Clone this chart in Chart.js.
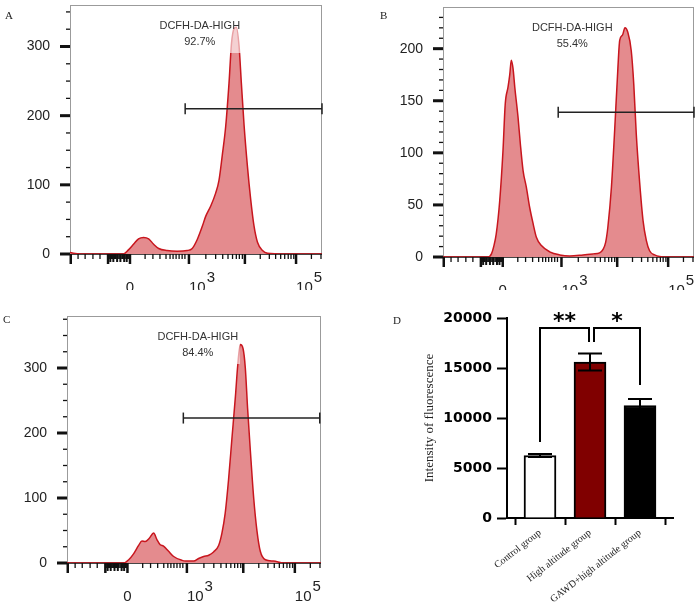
<!DOCTYPE html>
<html>
<head>
<meta charset="utf-8">
<script src="https://cdn.jsdelivr.net/npm/chart.js@4.4.1/dist/chart.umd.min.js"></script>
<style>
  body { margin: 0; background: #fff; }
  #fig { position: relative; width: 699px; height: 611px; overflow: hidden; }
  #fig canvas { position: absolute; }
  .tag { position: absolute; font: 11px "Liberation Serif", "Times New Roman", serif; color: #222; line-height: normal; }
</style>
</head>
<body>
<div id="fig">
  <canvas id="histA" width="345" height="290" style="left:0;top:0"></canvas>
  <canvas id="histB" width="329" height="290" style="left:370px;top:0"></canvas>
  <canvas id="histC" width="345" height="321" style="left:0;top:290px"></canvas>
  <canvas id="barD" width="309" height="326" style="left:390px;top:285px"></canvas>
  <div class="tag" style="left:5px;top:9px">A</div>
  <div class="tag" style="left:380px;top:9px">B</div>
  <div class="tag" style="left:3px;top:313px">C</div>
  <div class="tag" style="left:393px;top:314px">D</div>
</div>
<script>
Chart.defaults.animation = false;
Chart.defaults.font.family = '"Liberation Sans", Arial, sans-serif';

// flow histograms: x in channel units (0-1000 across the plot), biexponential display
const xMajorTicks = [3, 151, 238, 472, 694, 897];
const xMidTicks = [160, 172, 187, 200, 215, 225];
const xMinorTicks = [32, 60, 91, 119, 154, 158, 163, 165, 168, 176, 180, 183, 191, 195, 199, 203, 208, 212, 218, 222, 228, 231, 234,
  298, 329, 357, 381, 397, 409, 421, 433, 445, 456,
  539, 578, 606, 627, 645, 660, 672, 684, 755, 791, 816, 836, 852, 866, 877, 888, 958, 996];
const xLabelAt = [238, 472, 897];
const xLabelBase = ['0', '10', '10'];
const xLabelSup = ['', '3', '5'];

const chA = [0, 40, 212, 232, 252, 272, 292, 312, 332, 352, 385, 425, 465, 485, 505, 525, 538, 558, 578, 591,
  604, 618, 631, 641, 651, 660, 671, 680, 691, 704, 717, 730, 744, 764, 784, 850, 1000];
const countA = [2, 0, 0, 6, 14, 22, 24, 22, 14, 8, 5, 4, 5, 8, 21, 40, 54, 69, 88, 106,
  142, 185, 247, 305, 326, 328, 300, 247, 185, 127, 79, 41, 17, 5, 1, 0, 0];

const chB = [0, 179, 193, 202, 212, 226, 239, 248, 259, 266, 272, 279, 286, 299, 308, 319, 332, 345, 359, 372,
  392, 425, 465, 505, 558, 598, 624, 637, 648, 657, 671, 684, 695, 704, 715, 725, 736, 750, 760, 770,
  784, 797, 810, 823, 843, 890, 1000];
const countB = [0, 0, 3, 10, 22, 54, 102, 147, 163, 175, 189, 181, 163, 134, 109, 83, 67, 48, 32, 19,
  11, 5, 2, 1, 2, 3, 4, 7, 14, 29, 67, 122, 173, 208, 213, 220, 216, 198, 166, 118,
  70, 35, 16, 6, 2, 0, 0];

const chC = [0, 223, 243, 262, 282, 295, 308, 324, 341, 354, 367, 380, 400, 420, 453, 466, 499, 518, 538, 558,
  577, 597, 610, 623, 636, 649, 663, 672, 682, 693, 702, 711, 722, 735, 748, 761, 781, 813, 853, 1000];
const countC = [0, 0, 5, 14, 27, 34, 33, 38, 46, 36, 28, 26, 18, 10, 4, 3, 3, 7, 10, 12,
  17, 27, 46, 77, 128, 190, 256, 303, 336, 330, 300, 238, 172, 100, 49, 18, 5, 3, 0, 0];

const gateStart = [457, 459, 458];
const gateEnd = [1000, 1000, 995];
const gateLevel = [210, 139, 223];
const gateName = ['DCFH-DA-HIGH', 'DCFH-DA-HIGH', 'DCFH-DA-HIGH'];
const gatePct = ['92.7%', '55.4%', '84.4%'];

// bar chart (panel D)
const groups = ['Control group', 'High altitude group', 'GAWD+high altitude group'];
const meanIntensity = [6250, 15600, 11250];
const sdIntensity = [140, 850, 650];
const sigLeft = [0, 1.08];
const sigRight = [0.98, 2];
const sigLeftFoot = [7600, 17600];
const sigRightFoot = [17600, 13300];
const sigTop = [19000, 19000];
const sigMark = ['**', '*'];

const histPanels = [
  { canvas: 'histA', ch: chA, count: countA, yMax: 360, yStep: 100, yMinor: 25, yWidth: 70, top: 5, right: 23, xHeight: 36 },
  { canvas: 'histB', ch: chB, count: countB, yMax: 240, yStep: 50, yMinor: 10, yWidth: 73, top: 7, right: 5, xHeight: 33 },
  { canvas: 'histC', ch: chC, count: countC, yMax: 380, yStep: 100, yMinor: 25, yWidth: 67, top: 26, right: 24, xHeight: 48 }
];

function flowAxes(p, i) {
  return {
    id: 'flowAxes',
    beforeDatasetsDraw(chart) {
      const { ctx, chartArea: a } = chart;
      ctx.save();
      ctx.strokeStyle = '#9b9b9b';
      ctx.lineWidth = 1;
      ctx.strokeRect(a.left + 0.5, a.top + 0.5, a.right - a.left - 1, a.bottom - a.top - 0.5);
      ctx.strokeStyle = '#1a1a1a';
      ctx.lineWidth = 1.5;
      ctx.beginPath();
      ctx.moveTo(a.left, a.bottom);
      ctx.lineTo(a.right, a.bottom);
      ctx.stroke();
      ctx.restore();
    },
    afterDatasetsDraw(chart) {
      const { ctx, chartArea: a, scales: { x, y } } = chart;
      ctx.save();
      // gate label, on a see-through white box like the original export
      const cx = x.getPixelForValue(515);
      ctx.fillStyle = 'rgba(255,255,255,0.6)';
      ctx.fillRect(cx - 42, a.top + 12, 84, 36);
      ctx.fillStyle = '#333';
      ctx.font = '11px "Liberation Sans", Arial, sans-serif';
      ctx.textAlign = 'center';
      ctx.textBaseline = 'middle';
      ctx.fillText(gateName[i], cx, a.top + 21);
      ctx.fillText(gatePct[i], cx, a.top + 37);

      ctx.strokeStyle = '#111';
      const mark = (x0, y0, x1, y1, w) => {
        ctx.lineWidth = w;
        ctx.beginPath();
        ctx.moveTo(x0, y0);
        ctx.lineTo(x1, y1);
        ctx.stroke();
      };
      xMajorTicks.forEach(v => { const px = x.getPixelForValue(v); mark(px, a.bottom, px, a.bottom + 10, 2.5); });
      xMidTicks.forEach(v => { const px = x.getPixelForValue(v); mark(px, a.bottom, px, a.bottom + 8, 2); });
      xMinorTicks.forEach(v => { const px = x.getPixelForValue(v); mark(px, a.bottom, px, a.bottom + 5, 1.3); });
      for (let v = 0; v < p.yMax; v += p.yMinor) {
        const py = y.getPixelForValue(v);
        if (v % p.yStep === 0) mark(a.left - 10, py, a.left, py, 3);
        else mark(a.left - 4, py, a.left, py, 1.3);
      }

      ctx.fillStyle = '#222';
      ctx.font = '15px "Liberation Sans", Arial, sans-serif';
      xLabelAt.forEach((v, k) => {
        const px = x.getPixelForValue(v);
        if (!xLabelSup[k]) {
          ctx.textAlign = 'center';
          ctx.fillText(xLabelBase[k], px, a.bottom + 34);
          return;
        }
        ctx.textAlign = 'left';
        ctx.fillText(xLabelBase[k], px, a.bottom + 34);
        const w = ctx.measureText(xLabelBase[k]).width;
        ctx.fillText(xLabelSup[k], px + w + 1, a.bottom + 24);
      });
      ctx.restore();
    }
  };
}

histPanels.forEach((p, i) => {
  new Chart(document.getElementById(p.canvas), {
    type: 'line',
    data: {
      datasets: [
        {
          label: 'gate',
          data: [{ x: gateStart[i], y: gateLevel[i] }, { x: gateEnd[i], y: gateLevel[i] }],
          borderColor: '#222',
          borderWidth: 1.5,
          pointStyle: 'line',
          rotation: 90,
          pointRadius: 5.5,
          pointBorderColor: '#222',
          pointBorderWidth: 1.5,
          fill: false,
          clip: false
        },
        {
          label: 'count',
          data: p.ch.map((c, k) => ({ x: c, y: p.count[k] })),
          borderColor: '#c8161e',
          borderWidth: 1.5,
          backgroundColor: '#e48b8e',
          fill: 'origin',
          pointRadius: 0,
          cubicInterpolationMode: 'monotone'
        }
      ]
    },
    options: {
      responsive: false,
      layout: { autoPadding: false, padding: { left: 0, top: p.top, right: p.right, bottom: 0 } },
      plugins: { legend: { display: false }, tooltip: { enabled: false } },
      scales: {
        x: {
          type: 'linear', min: 0, max: 1000,
          grid: { display: false, drawTicks: false },
          border: { display: false },
          ticks: { display: false },
          afterFit: s => { s.height = p.xHeight; s.paddingLeft = 0; s.paddingRight = 0; }
        },
        y: {
          min: 0, max: p.yMax,
          grid: { display: false, drawTicks: false },
          border: { display: false },
          ticks: { stepSize: p.yStep, padding: 20, includeBounds: false, autoSkip: false, color: '#222', font: { size: 14 } },
          afterFit: s => { s.width = p.yWidth; s.paddingTop = 0; s.paddingBottom = 0; }
        }
      }
    },
    plugins: [flowAxes(p, i)]
  });
});

const barMarks = {
  id: 'barMarks',
  afterDatasetsDraw(chart) {
    const { ctx, scales: { x, y } } = chart;
    ctx.save();
    ctx.strokeStyle = '#000';
    ctx.lineWidth = 2;
    meanIntensity.forEach((m, i) => {
      const px = x.getPixelForValue(i);
      const hi = y.getPixelForValue(m + sdIntensity[i]);
      const lo = y.getPixelForValue(m - sdIntensity[i]);
      ctx.beginPath();
      ctx.moveTo(px, lo); ctx.lineTo(px, hi);
      ctx.moveTo(px - 12, hi); ctx.lineTo(px + 12, hi);
      ctx.moveTo(px - 12, lo); ctx.lineTo(px + 12, lo);
      ctx.stroke();
    });
    ctx.lineJoin = 'miter';
    sigMark.forEach((s, k) => {
      const x0 = x.getPixelForValue(sigLeft[k]), x1 = x.getPixelForValue(sigRight[k]);
      const yt = y.getPixelForValue(sigTop[k]);
      ctx.beginPath();
      ctx.moveTo(x0, y.getPixelForValue(sigLeftFoot[k]));
      ctx.lineTo(x0, yt);
      ctx.lineTo(x1, yt);
      ctx.lineTo(x1, y.getPixelForValue(sigRightFoot[k]));
      ctx.stroke();
      ctx.fillStyle = '#000';
      ctx.font = 'bold 22px "DejaVu Sans", sans-serif';
      ctx.textAlign = 'center';
      ctx.textBaseline = 'alphabetic';
      ctx.fillText(s, (x0 + x1) / 2, yt);
    });
    ctx.restore();
  }
};

new Chart(document.getElementById('barD'), {
  type: 'bar',
  data: {
    datasets: [{
      label: 'Intensity of fluorescence',
      data: meanIntensity.map((m, i) => ({ x: i, y: m })),
      backgroundColor: ['#ffffff', '#800000', '#000000'],
      borderColor: '#000',
      borderWidth: 2,
      barThickness: 32
    }]
  },
  options: {
    responsive: false,
    layout: { autoPadding: false, padding: { left: 0, top: 33, right: 26, bottom: 0 } },
    plugins: { legend: { display: false }, tooltip: { enabled: false } },
    scales: {
      x: {
        type: 'linear', min: -0.66, max: 2.66, offset: false,
        afterBuildTicks: s => { s.ticks = groups.map((g, i) => ({ value: i })); },
        ticks: {
          callback: v => groups[v],
          minRotation: 38, maxRotation: 38, autoSkip: false, padding: 2,
          color: '#222', font: { family: '"Liberation Serif", serif', size: 10 }
        },
        grid: { drawOnChartArea: false, tickLength: 7, tickWidth: 2, tickColor: '#000' },
        border: { color: '#000', width: 2 },
        afterFit: s => { s.height = 93; }
      },
      y: {
        min: 0, max: 20000,
        ticks: {
          stepSize: 5000, padding: 5, color: '#000', callback: v => String(v),
          font: { family: '"DejaVu Sans", sans-serif', weight: 'bold', size: 14 }
        },
        grid: { drawOnChartArea: false, tickLength: 10, tickWidth: 2, tickColor: '#000' },
        border: { color: '#000', width: 2 },
        title: {
          display: true, text: 'Intensity of fluorescence', color: '#222',
          font: { family: '"Liberation Serif", serif', size: 13 }, padding: { top: 32, bottom: 0 }
        },
        afterFit: s => { s.width = 117; }
      }
    }
  },
  plugins: [barMarks]
});
</script>
</body>
</html>
